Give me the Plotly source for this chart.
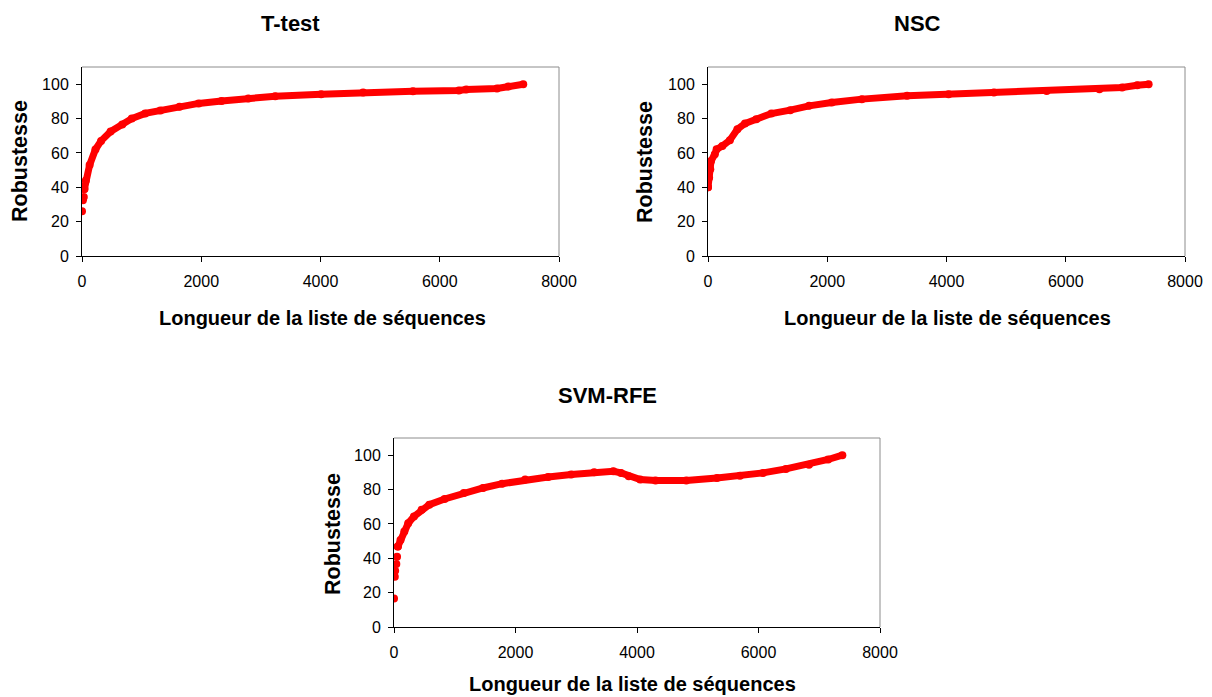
import plotly.graph_objects as go

# ---- data ----
ttest_x = [0, 15, 30, 40, 64, 128, 225, 320, 480, 675, 835, 1060, 1315, 1635, 1956, 2340,
           2790, 3240, 4010, 4715, 5550, 6320, 6445, 6960, 7150, 7400]
ttest_y = [26, 32.5, 34.3, 39, 44, 53, 62, 67, 72.5, 76.5, 80, 83, 84.7, 86.9, 88.8, 90.2,
           91.6, 93, 94.1, 95.1, 95.9, 96.3, 96.9, 97.5, 98.6, 100]

nsc_x = [0, 19, 38, 51, 114, 145, 240, 367, 493, 620, 810, 1063, 1379, 1695, 2075, 2580,
         3340, 4035, 4795, 5680, 6565, 6945, 7198, 7390]
nsc_y = [40, 45.6, 50.5, 55.3, 59.2, 62.1, 64, 67.4, 73.8, 77.1, 79.6, 82.9, 84.9, 87.4, 89.3, 91.3,
         93.2, 94.2, 95.1, 96.1, 97.1, 98.1, 99.4, 100]

svm_x = [0, 13, 19, 38, 50, 63, 107, 170, 234, 328, 455, 581, 833, 1149, 1465, 1780, 2159,
         2538, 2917, 3295, 3611, 3737, 3864, 4053, 4306, 4811, 5316, 5695, 6074, 6452, 6831,
         7147, 7380]
svm_y = [16.6, 29.2, 32.7, 36.6, 40.9, 46.8, 50.7, 55.6, 60.4, 64.3, 68.2, 71.2, 74.5, 78,
         80.9, 83.4, 85.8, 87.3, 88.7, 90.1, 90.6, 89.7, 87.7, 85.8, 85.2, 85.2, 86.7, 88.1,
         89.7, 92, 94.5, 97.5, 100]

titles = ["T-test", "NSC", "SVM-RFE"]
x_title = "Longueur de la liste de séquences"
y_title = "Robustesse"
x_ticks = [0, 2000, 4000, 6000, 8000]
y_ticks = [0, 20, 40, 60, 80, 100]

W, H = 1212, 697
RED = "#FF0000"
FONT = "Liberation Sans, Arial, sans-serif"

# plot areas in window pixels (left, right, top, bottom)
areas = [(82, 559, 67, 256), (708, 1185, 67, 256), (394, 880, 438, 627)]
# title centre, y-title centre, x-title centre (window pixels)
title_pos = [(290, 24), (917, 24), (607, 395)]
ytitle_pos = [(20, 161), (645, 162), (333, 534)]
xtitle_pos = [(322, 318), (947, 318), (632, 684)]
series = [(ttest_x, ttest_y, 4), (nsc_x, nsc_y, 1), (svm_x, svm_y, 6)]


def fx(x):
    return x / W


def fy(y):
    return 1 - y / H


fig = go.Figure()
layout = dict(
    width=W, height=H, margin=dict(l=0, r=0, t=0, b=0),
    paper_bgcolor="white", plot_bgcolor="white", showlegend=False,
    font=dict(family=FONT, color="black", size=16),
)
annotations = []
shapes = []

for i, ((l, r, t, b), (xs, ys, nsep), title) in enumerate(zip(areas, series, titles)):
    suf = "" if i == 0 else str(i + 1)
    xa, ya = "x" + suf, "y" + suf
    layout["xaxis" + suf] = dict(
        domain=[fx(l), fx(r)], range=[0, 8000], anchor=ya, tickvals=x_ticks,
        showline=True, linecolor="black", linewidth=1, ticks="outside", ticklen=5,
        tickcolor="black", showgrid=False, zeroline=False, fixedrange=True,
        automargin=False, ticklabelstandoff=6,
        tickfont=dict(size=16, family=FONT),
    )
    layout["yaxis" + suf] = dict(
        domain=[fy(b), fy(t)], range=[0, 110], anchor=xa, tickvals=y_ticks,
        showline=True, linecolor="black", linewidth=1, ticks="outside", ticklen=5,
        tickcolor="black", showgrid=False, zeroline=False, fixedrange=True,
        automargin=False, ticklabelstandoff=4,
        tickfont=dict(size=16, family=FONT),
    )
    # grey frame top/right
    shapes.append(dict(type="line", xref=xa + " domain", yref=ya + " domain",
                       x0=0, x1=1, y0=1, y1=1, line=dict(color="#8c8c8c", width=1)))
    shapes.append(dict(type="line", xref=xa + " domain", yref=ya + " domain",
                       x0=1, x1=1, y0=0, y1=1, line=dict(color="#8c8c8c", width=1)))
    annotations.append(dict(
        text="<b>" + title + "</b>", xref="paper", yref="paper",
        x=fx(title_pos[i][0]), y=fy(title_pos[i][1]),
        xanchor="center", yanchor="middle", showarrow=False,
        font=dict(size=22, family=FONT)))
    annotations.append(dict(
        text="<b>" + y_title + "</b>", xref="paper", yref="paper",
        x=fx(ytitle_pos[i][0]), y=fy(ytitle_pos[i][1]),
        xanchor="center", yanchor="middle", showarrow=False, textangle=-90,
        font=dict(size=21.5, family=FONT)))
    annotations.append(dict(
        text="<b>" + x_title + "</b>", xref="paper", yref="paper",
        x=fx(xtitle_pos[i][0]), y=fy(xtitle_pos[i][1]),
        xanchor="center", yanchor="middle", showarrow=False,
        font=dict(size=20, family=FONT)))
    # sparse starting points as separate dots
    fig.add_trace(go.Scatter(x=xs[:nsep], y=ys[:nsep], mode="markers", xaxis=xa, yaxis=ya,
                             marker=dict(color=RED, size=8, line=dict(width=0))))
    fig.add_trace(go.Scatter(x=xs[nsep - 1:], y=ys[nsep - 1:], mode="lines+markers",
                             xaxis=xa, yaxis=ya, line=dict(color=RED, width=7),
                             marker=dict(color=RED, size=8, line=dict(width=0))))

layout["annotations"] = annotations
layout["shapes"] = shapes
fig.update_layout(**layout)
fig.write_html(
    "out.html",
    config={"displayModeBar": False},
    post_script="document.body.style.margin='0';document.body.style.overflow='hidden';",
)
